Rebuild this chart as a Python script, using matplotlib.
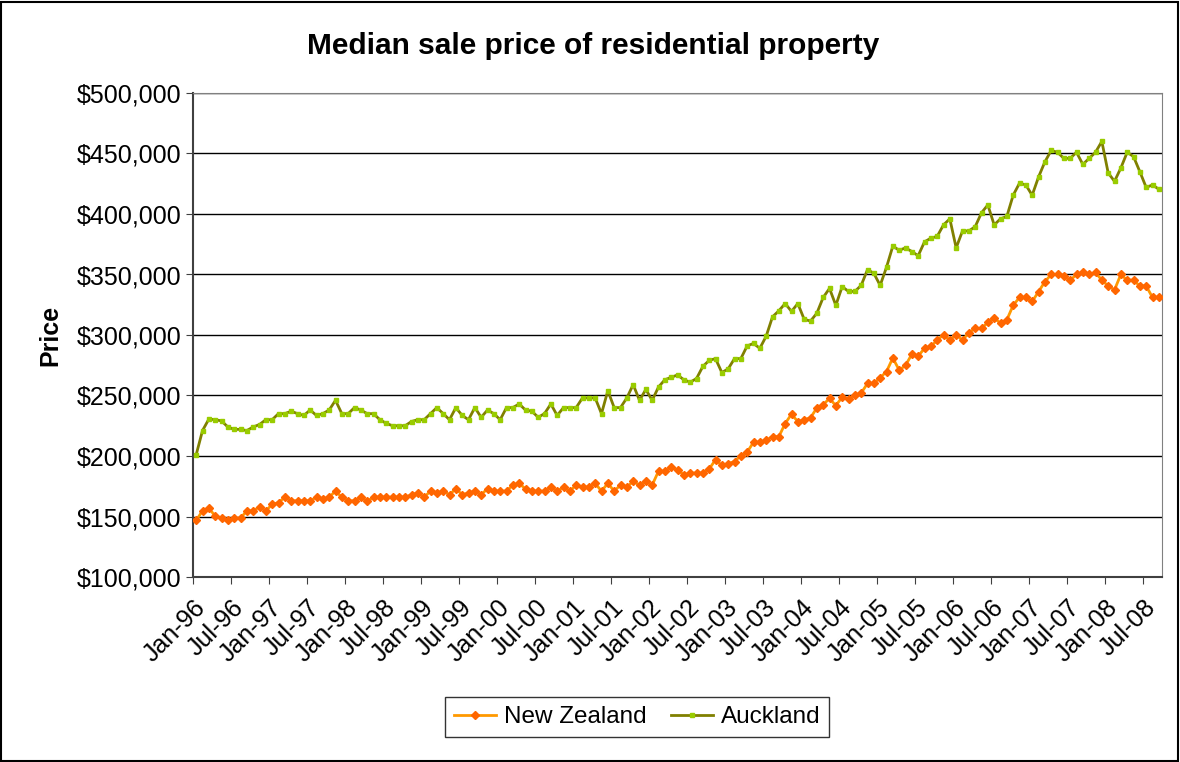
import matplotlib
matplotlib.use('Agg')
import matplotlib.pyplot as plt
import numpy as np
import pandas as pd
from matplotlib.patches import Rectangle
from matplotlib.ticker import FuncFormatter

plt.rcParams['font.family'] = ['Liberation Sans', 'DejaVu Sans']

# monthly, Jan-96 .. Sep-08 (values in $000)
months = pd.date_range('1996-01-01', periods=153, freq='MS')

auckland = [
    201, 221, 230.5, 230, 229, 224, 222, 222, 221, 224, 226, 230, 230, 235, 235, 237, 235, 233.5, 238, 233.5,
    235, 238, 246, 235, 235, 240,
    238, 235, 235, 230, 227, 225, 225, 225, 228.5, 230, 230, 235, 240, 235, 230, 240, 233.5, 230, 240, 232,
    238, 235, 230, 240, 240, 243,
    238, 237, 232, 235, 243, 233.5, 240, 240, 240, 248, 248, 248, 235, 254, 240, 240, 248, 259, 246, 255,
    246, 257, 263, 265, 267,
    263, 261, 264, 274, 279, 280.5, 269, 272, 280.5, 280.5, 291, 293, 289, 299, 315, 320, 326, 319.5, 326, 313,
    311.5, 318, 331, 338.5, 324.5, 340,
    336, 336, 341, 354, 351, 341, 356, 373.5, 370, 372, 369, 365.5, 377, 380, 381.5, 391, 396, 372, 386, 386,
    389.5, 401, 407.5, 391, 396, 398,
    415.5, 425.5, 424, 415.5, 430.5, 443, 452.5, 451, 446, 446, 451, 441, 446, 451, 460, 434, 427, 438, 451, 447.5,
    435, 422, 424, 420.5,
]

new_zealand = [
    146.7, 154.7, 157, 150.3, 148.6, 146.7, 148.6, 148.6, 154.7, 154.7, 158, 154.7, 160, 161.5, 166, 163, 163, 163, 163, 166,
    164.5, 166, 171, 166, 163, 163,
    166, 162.6, 166, 166, 166, 166, 166, 166, 168, 169.5, 166, 171, 169.5, 171, 168, 173, 168, 169.5, 171, 168,
    173, 171, 171, 171, 176, 177.5,
    172.7, 171, 171, 171, 174.3, 171, 174.3, 171, 176, 174.3, 174.3, 177.4, 171, 177.4, 171, 176, 174.3, 179, 176, 179,
    176, 187.4, 187.4, 190.5, 188.8,
    184.3, 185.9, 185.9, 185.9, 189.2, 197, 192.2, 193.8, 195.4, 200.3, 203.2, 211.4, 211.4, 213, 216, 216, 226.8, 234.6, 228.4, 230,
    231.6, 239.7, 242.4, 247.6, 241.6, 248.7,
    247, 250.3, 252, 260, 260, 264.7, 269.8, 281, 271, 274.8, 284.2, 282.5, 289, 290.6, 295.6, 300.4, 295.6, 300.4, 295.6, 302,
    305.4, 305.4, 310.4, 313.7, 310, 312.5,
    324.6, 331, 331, 327.7, 335.7, 344, 350, 350, 348.6, 345.3, 350, 351.7, 350, 351.7, 345.3, 340.6, 337.3, 350, 345.3, 345.3,
    340.6, 340.6, 331, 331,
]

tick_idx = list(range(0, 153, 6))
tick_labels = [months[i].strftime('%b-%y') for i in tick_idx]

x = np.arange(len(months))
nz = np.array(new_zealand) * 1000
akl = np.array(auckland) * 1000

fig = plt.figure(figsize=(11.8, 7.62), dpi=100)
ax = fig.add_axes([193/1180, 1 - 577/762, (1162-193)/1180, (577-93)/762])

ax.plot(x, nz, color='#FF9900', lw=2, marker='D', ms=4,
        mfc='#FF6600', mec='#FF6600', label='New Zealand', zorder=3)
ax.plot(x, akl, color='#808000', lw=2, marker='s', ms=3.3,
        mfc='#99CC00', mec='#99CC00', label='Auckland', zorder=3)

ax.set_xlim(-0.5, 152.5)
ax.set_ylim(100000, 500000)
ax.set_yticks(np.arange(100000, 500001, 50000))
ax.yaxis.set_major_formatter(FuncFormatter(lambda v, p: '${:,.0f}'.format(v)))
ax.grid(axis='y', color='black', lw=1)
ax.set_axisbelow(True)

ax.set_xticks([i - 0.5 for i in tick_idx])
ax.set_xticklabels(tick_labels, rotation=45, ha='right', rotation_mode='anchor')
ax.tick_params(axis='both', labelsize=18, direction='out', length=5, color='#404040')
ax.tick_params(axis='x', pad=8)

for s in ['top', 'right']:
    ax.spines[s].set_color('#808080')
for s in ['left', 'bottom']:
    ax.spines[s].set_color('#404040')
    ax.spines[s].set_linewidth(1.5)

ax.set_ylabel('Price', fontsize=18, fontweight='bold', labelpad=10)
fig.text(0.503, 1 - 46/762, 'Median sale price of residential property',
         ha='center', va='center', fontsize=21.5, fontweight='bold')

leg = fig.legend(loc='center', bbox_to_anchor=(637/1180, 1 - 717/762), ncol=2,
                 fontsize=17.5, frameon=True, fancybox=False, edgecolor='black',
                 handlelength=1.75, handletextpad=0.3, columnspacing=1.0,
                 borderpad=0.35)
leg.get_frame().set_linewidth(1)

fig.patches.append(Rectangle((0.001, 0.001), 0.997, 0.997, transform=fig.transFigure,
                             fill=False, edgecolor='black', lw=1.5))

fig.savefig('out.png', dpi=100)
